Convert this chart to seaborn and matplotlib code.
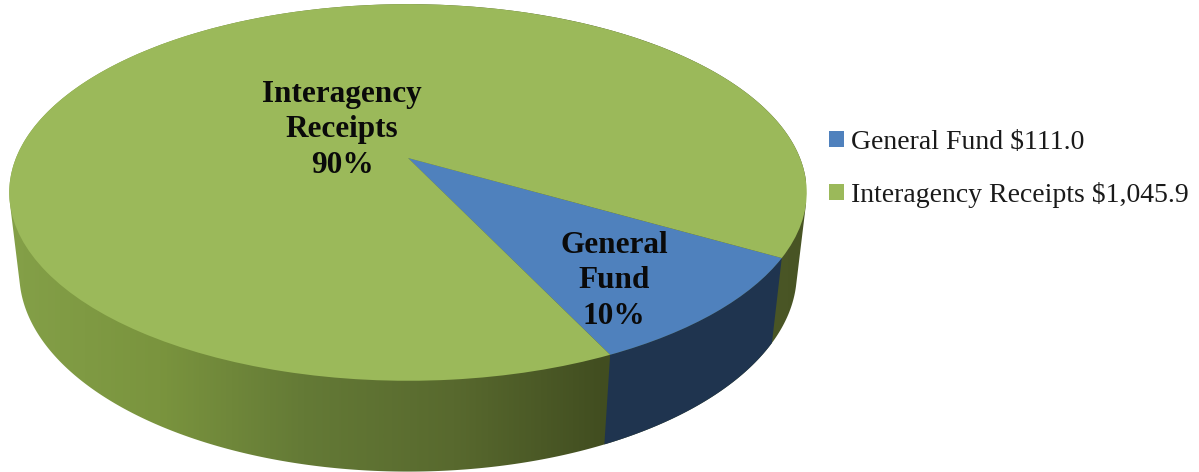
import numpy as np
import matplotlib
matplotlib.use("Agg")
import matplotlib.pyplot as plt
import matplotlib.transforms as mtransforms
from matplotlib.colors import LinearSegmentedColormap
from matplotlib.patches import Polygon
import seaborn as sns

# ---- data ----
categories = ["General Fund", "Interagency Receipts"]
amounts = [111.0, 1045.9]
percent_labels = ["10%", "90%"]
slice_titles = ["General\nFund", "Interagency\nReceipts"]
legend_labels = ["General Fund $111.0", "Interagency Receipts $1,045.9"]

# ---- style ----
BLUE, GREEN = "#4f81bd", "#9bb95a"
FONT = "Liberation Serif"
sns.set_theme(style="white")
plt.rcParams["font.family"] = [FONT, "DejaVu Serif"]

W, H = 1199, 472
# perspective parameters of the tilted disc (pixel units)
APEX = (408.0, 158.0)
RX, RY, K = 392.0, 182.0, 0.183
VANISH = (410.0, 3460.0)
DEPTH = 0.0241
START = -64.5


def project(xy):
    xy = np.asarray(xy, dtype=float)
    u, v = xy[..., 0], xy[..., 1]
    w = 1 + K * v
    return np.stack([APEX[0] + RX * u / w, APEX[1] - RY * v / w], axis=-1)


class Perspective(mtransforms.Transform):
    input_dims = output_dims = 2
    is_separable = False
    has_inverse = False

    def transform_non_affine(self, values):
        return project(values)


def rims(a0, a1, n=240):
    th = np.radians(np.linspace(a0, a1, n))
    uv = np.stack([np.cos(th), np.sin(th)], axis=1)
    top = project(uv)
    t = DEPTH / (1 + K * uv[:, 1])
    return top, top + t[:, None] * (np.array(VANISH) - top)


def hull(points):
    pts = sorted(map(tuple, points))

    def half(seq):
        out = []
        for p in seq:
            while len(out) > 1 and ((out[-1][0] - out[-2][0]) * (p[1] - out[-2][1])
                                    - (out[-1][1] - out[-2][1]) * (p[0] - out[-2][0])) <= 0:
                out.pop()
            out.append(p)
        return out[:-1]

    return np.array(half(pts) + half(pts[::-1]))


fig = plt.figure(figsize=(W / 100, H / 100), dpi=100)
ax = fig.add_axes([0, 0, 1, 1])

wedges, _ = ax.pie(amounts, colors=[BLUE, GREEN], startangle=START,
                   radius=1.0, wedgeprops=dict(linewidth=0), labels=None)

persp = Perspective()
for w in wedges:
    w.set_transform(persp + ax.transData)
    w.set_zorder(3)

# ---- side wall, built from the same shares ----
green_wall = LinearSegmentedColormap.from_list(
    "gw", [(0.0, "#84a048"), (0.19, "#7a943e"), (0.37, "#647a36"),
           (0.56, "#58692e"), (0.75, "#414d20"), (0.96, "#4a5626"), (1.0, "#485424")])
blue_wall = LinearSegmentedColormap.from_list("bw", ["#1e314d", "#203550"])

shares = np.array(amounts) / np.sum(amounts)
edges = START + 360 * np.concatenate([[0], np.cumsum(shares)])


def gradient(poly_pts, cmap, z):
    poly = Polygon(poly_pts, closed=True, transform=ax.transData,
                   facecolor="none", edgecolor="none")
    ax.add_patch(poly)
    im = ax.imshow(np.linspace(0, 1, 512)[None, :], cmap=cmap, vmin=0, vmax=1,
                   extent=(8, 806, H, 0), aspect="auto", zorder=z, interpolation="bilinear")
    im.set_clip_path(poly)


# whole extruded disc in the green wall shade, blue slice's wall on top of it
top_all, bot_all = rims(0, 360, 720)
gradient(hull(np.vstack([top_all, bot_all])), green_wall, 1)
top_b, bot_b = rims(edges[0], edges[1])
gradient(np.vstack([top_b, bot_b[::-1]]), blue_wall, 2)

ax.set_aspect("auto")
ax.set_xlim(0, W)
ax.set_ylim(H, 0)
ax.axis("off")

# ---- slice labels ----
ax.text(342, 130, slice_titles[1] + "\n" + percent_labels[1], ha="center", va="center",
        fontsize=22.5, fontweight="bold", color="#0a0a0a", linespacing=1.3, zorder=5)
ax.text(614, 281, slice_titles[0] + "\n" + percent_labels[0], ha="center", va="center",
        fontsize=22.5, fontweight="bold", color="#0a0a0a", linespacing=1.3, zorder=5)

# ---- legend ----
leg = ax.legend(wedges, legend_labels, loc="upper left",
                bbox_to_anchor=(829 / W, 1 - 130 / H), frameon=False,
                fontsize=20, handlelength=0.54, handleheight=0.54, handletextpad=0.25,
                labelspacing=0.97, borderpad=0, borderaxespad=0,
                labelcolor="#1a1a1a")

fig.savefig("out.png", dpi=100, facecolor="white")
